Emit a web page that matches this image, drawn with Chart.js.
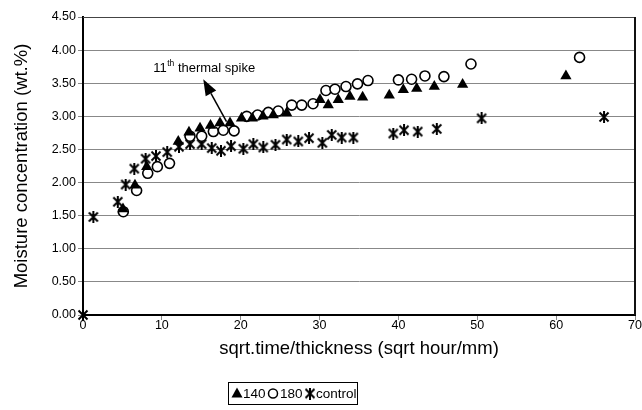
<!DOCTYPE html>
<html><head><meta charset="utf-8">
<script src="https://cdn.jsdelivr.net/npm/chart.js@4/dist/chart.umd.min.js"></script>
<style>html,body{margin:0;padding:0;background:#fff}#wrap{width:642px;height:410px}</style>
</head><body><div id="wrap"><canvas id="c" width="642" height="410"></canvas></div>
<script>
const seriesLabels = ["140", "180", "control"];
const x140 = [5.07, 6.59, 8.08, 12.08, 13.44, 14.84, 16.17, 17.37, 18.64, 20.10, 21.47, 22.82, 24.13, 25.83, 30.06, 31.10, 32.37, 33.85, 35.46, 38.84, 40.62, 42.32, 44.55, 48.14, 61.24];
const y140 = [1.60, 1.96, 2.24, 2.62, 2.76, 2.82, 2.86, 2.90, 2.90, 2.97, 2.97, 3.00, 3.02, 3.05, 3.25, 3.17, 3.25, 3.30, 3.29, 3.32, 3.40, 3.42, 3.45, 3.48, 3.61];
const x180 = [5.11, 6.80, 8.21, 9.43, 10.97, 13.57, 15.05, 16.53, 17.79, 19.16, 20.76, 22.14, 23.50, 24.76, 26.47, 27.74, 29.17, 30.81, 31.95, 33.35, 34.81, 36.14, 40.00, 41.67, 43.36, 45.77, 49.20, 62.97];
const y180 = [1.56, 1.88, 2.14, 2.24, 2.29, 2.70, 2.70, 2.77, 2.79, 2.78, 3.00, 3.02, 3.06, 3.08, 3.17, 3.17, 3.19, 3.39, 3.41, 3.45, 3.49, 3.54, 3.55, 3.56, 3.61, 3.60, 3.79, 3.89];
const xCtrl = [0, 1.31, 4.41, 5.41, 6.50, 7.94, 9.25, 10.68, 12.17, 13.57, 15.05, 16.32, 17.50, 18.77, 20.33, 21.60, 22.86, 24.41, 25.83, 27.30, 28.66, 30.35, 31.54, 32.81, 34.28, 39.35, 40.71, 42.45, 44.86, 50.55, 66.07];
const yCtrl = [0, 1.48, 1.71, 1.97, 2.21, 2.36, 2.40, 2.46, 2.54, 2.58, 2.58, 2.52, 2.48, 2.55, 2.51, 2.58, 2.53, 2.57, 2.65, 2.62, 2.67, 2.60, 2.72, 2.68, 2.68, 2.74, 2.79, 2.77, 2.81, 2.97, 2.99];
const xTitle = "sqrt.time/thickness (sqrt hour/mm)";
const yTitle = "Moisture concentration (wt.%)";
const annoText = ["11", "th", " thermal spike"];
const annoTextPos = [8.9, 3.67];
const arrowFrom = [18.2, 2.92];
const arrowTo = [15.25, 3.56];

const FONT = "Arial, 'Liberation Sans', sans-serif";

function makeStar(size, lw) {
  const c = document.createElement('canvas');
  c.width = size; c.height = size;
  const g = c.getContext('2d');
  g.strokeStyle = '#000'; g.lineWidth = lw; g.lineCap = 'butt';
  const m = 1.5, s = size;
  g.beginPath();
  g.moveTo(m, m); g.lineTo(s - m, s - m);
  g.moveTo(s - m, m); g.lineTo(m, s - m);
  g.moveTo(s / 2, 0); g.lineTo(s / 2, s);
  g.stroke();
  return c;
}
const starImg = makeStar(12, 2);

function pts(xs, ys) { return xs.map((x, i) => ({ x: x, y: ys[i] })); }

const framePlugin = {
  id: 'frame',
  beforeDatasetsDraw(chart) {
    const { ctx, chartArea: a } = chart;
    ctx.save();
    ctx.strokeStyle = '#444'; ctx.lineWidth = 1;
    ctx.beginPath(); ctx.moveTo(a.left, a.top + 0.5); ctx.lineTo(a.right, a.top + 0.5); ctx.stroke();
    ctx.strokeStyle = '#111'; ctx.lineWidth = 2;
    ctx.beginPath(); ctx.moveTo(a.right, a.top); ctx.lineTo(a.right, a.bottom); ctx.stroke();
    ctx.restore();
  },
  afterDraw(chart) {
    const { ctx } = chart;
    const xs = chart.scales.x, ys = chart.scales.y;
    ctx.save();
    const fx = xs.getPixelForValue(arrowFrom[0]), fy = ys.getPixelForValue(arrowFrom[1]);
    const tx = xs.getPixelForValue(arrowTo[0]), ty = ys.getPixelForValue(arrowTo[1]);
    const ang = Math.atan2(ty - fy, tx - fx);
    const hl = 16, hw = 6;
    const bx = tx - Math.cos(ang) * hl, by = ty - Math.sin(ang) * hl;
    ctx.strokeStyle = '#000'; ctx.fillStyle = '#000'; ctx.lineWidth = 1.5;
    ctx.beginPath(); ctx.moveTo(fx, fy); ctx.lineTo(bx, by); ctx.stroke();
    ctx.beginPath();
    ctx.moveTo(tx, ty);
    ctx.lineTo(bx + Math.sin(ang) * hw, by - Math.cos(ang) * hw);
    ctx.lineTo(bx - Math.sin(ang) * hw, by + Math.cos(ang) * hw);
    ctx.closePath(); ctx.fill();
    let px = xs.getPixelForValue(annoTextPos[0]);
    const py = ys.getPixelForValue(annoTextPos[1]);
    ctx.textBaseline = 'alphabetic'; ctx.textAlign = 'left';
    ctx.font = '13px ' + FONT;
    ctx.fillText(annoText[0], px, py); px += ctx.measureText(annoText[0]).width + 0.5;
    ctx.font = '8.5px ' + FONT;
    ctx.fillText(annoText[1], px, py - 6); px += ctx.measureText(annoText[1]).width;
    ctx.font = '13px ' + FONT;
    ctx.fillText(annoText[2], px, py);
    const lx = 228, ly = 382, lw = 129, lh = 22;
    ctx.fillStyle = '#fff'; ctx.fillRect(lx, ly, lw, lh);
    ctx.strokeStyle = '#000'; ctx.lineWidth = 1;
    ctx.strokeRect(lx + 0.5, ly + 0.5, lw, lh);
    const cy = ly + lh / 2 + 0.5;
    ctx.font = '13.5px ' + FONT; ctx.textBaseline = 'middle'; ctx.fillStyle = '#000';
    const pos = [[237, 243], [273, 280], [310, 316]];
    chart.data.datasets.forEach((ds, i) => {
      const [mx, tx2] = pos[i];
      if (i === 0) {
        ctx.beginPath(); ctx.moveTo(mx, cy - 6); ctx.lineTo(mx + 5.5, cy + 4); ctx.lineTo(mx - 5.5, cy + 4); ctx.closePath(); ctx.fill();
      } else if (i === 1) {
        ctx.lineWidth = 1.5; ctx.beginPath(); ctx.arc(mx, cy, 4.5, 0, Math.PI * 2); ctx.stroke();
      } else {
        ctx.drawImage(starImg, mx - 6, cy - 6);
      }
      ctx.fillText(ds.label, tx2, cy + 1);
    });
    ctx.restore();
  }
};

new Chart(document.getElementById('c'), {
  type: 'scatter',
  data: {
    datasets: [
      { label: seriesLabels[0], data: pts(x140, y140), pointStyle: 'triangle', pointRadius: 6.5, pointHoverRadius: 6.5, backgroundColor: '#000', borderColor: '#000', borderWidth: 0, clip: false },
      { label: seriesLabels[1], data: pts(x180, y180), pointStyle: 'circle', pointRadius: 5, pointHoverRadius: 5, backgroundColor: '#fff', borderColor: '#000', borderWidth: 1.6, clip: false },
      { label: seriesLabels[2], data: pts(xCtrl, yCtrl), pointStyle: starImg, pointRadius: 6, backgroundColor: '#000', borderColor: '#000', clip: false }
    ]
  },
  options: {
    responsive: false, animation: false, devicePixelRatio: 1,
    layout: { padding: { top: 17, right: 7, left: 0, bottom: 0 } },
    plugins: { legend: { display: false }, tooltip: { enabled: false } },
    scales: {
      x: {
        type: 'linear', min: 0, max: 70,
        ticks: { stepSize: 10, color: '#000', font: { size: 12.5, family: FONT }, padding: -2, maxRotation: 0 },
        grid: { drawOnChartArea: false, drawTicks: true, tickLength: 5, color: '#888' },
        border: { color: '#000', width: 2 },
        title: { display: true, text: xTitle, color: '#000', font: { size: 18.5, family: FONT }, padding: { top: 0, bottom: 50 } },
        afterFit(s) { s.height = 95; }
      },
      y: {
        type: 'linear', min: 0, max: 4.5,
        ticks: { stepSize: 0.5, color: '#000', font: { size: 12.5, family: FONT }, padding: 2, callback: v => Number(v).toFixed(2) },
        grid: { color: '#888', lineWidth: 1, tickLength: 5 },
        border: { color: '#000', width: 2 },
        title: { display: true, text: yTitle, color: '#000', font: { size: 18.5, family: FONT }, padding: { top: 11, bottom: 0 } },
        afterFit(s) { s.width = 83; }
      }
    }
  },
  plugins: [framePlugin]
});
</script></body></html>
